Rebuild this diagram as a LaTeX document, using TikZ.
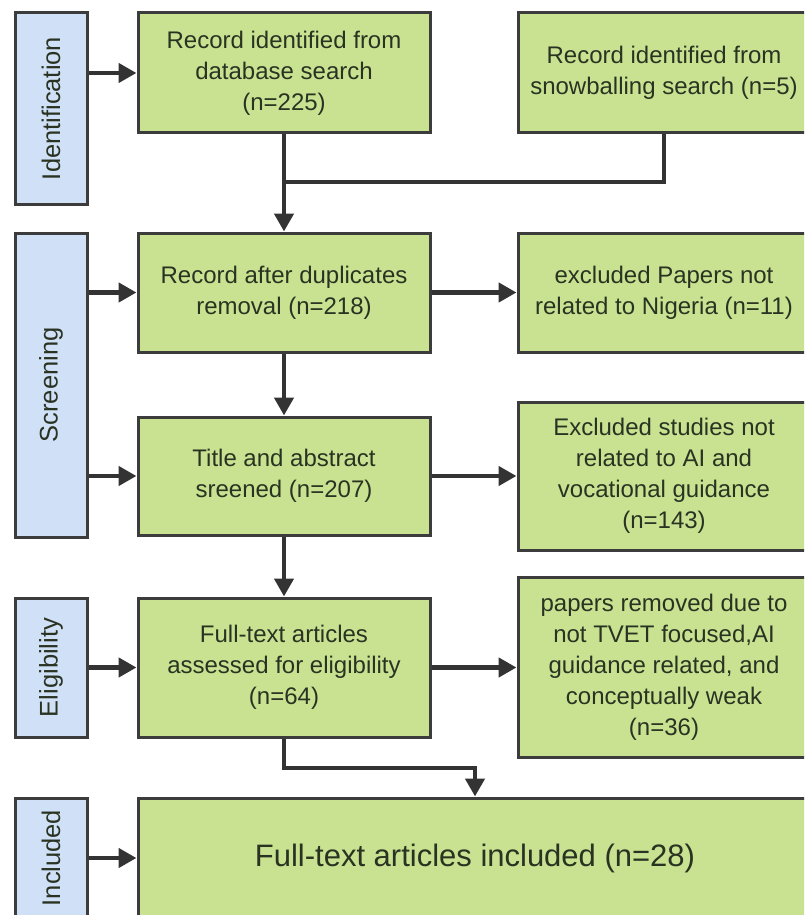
\documentclass[tikz,border=0pt]{standalone}
\usepackage{fontspec}
\setmainfont{Liberation Sans}
\usetikzlibrary{arrows.meta}
\definecolor{gfill}{HTML}{C8E291}
\definecolor{bfill}{HTML}{CFE0F7}
\definecolor{edgec}{HTML}{3C3C3C}
\definecolor{txtc}{HTML}{2A3322}
\definecolor{linec}{HTML}{333333}
\tikzset{
  phase/.style={draw=edgec, line width=3pt, fill=bfill, minimum width=72pt, inner sep=0pt,
    text=txtc, font=\fontsize{25.5}{30}\selectfont},
  gbox/.style={draw=edgec, line width=3pt, fill=gfill, minimum width=292pt, inner sep=0pt,
    align=center, text=txtc, font=\fontsize{24}{31}\selectfont},
  conn/.style={draw=linec, line width=4.5pt},
  arr/.style={conn, -{Triangle[length=18pt,width=19pt]}},
}
\begin{document}
\begin{tikzpicture}[x=1pt,y=-1pt]
\useasboundingbox (0,0) rectangle (804,915);
\clip (0,0) rectangle (804,915);
\fill[white] (0,0) rectangle (804,915);
% phase boxes
\node[phase, minimum height=191pt] (id) at (51,108.5) {\rotatebox{90}{Identification}};
\node[phase, minimum height=304pt] (scr) at (51,385) {\rotatebox{90}{Screening}};
\node[phase, minimum height=139pt] (eli) at (51,667.5) {\rotatebox{90}{Eligibility}};
\node[phase, minimum height=120pt] (inc) at (51,858) {\rotatebox{90}{Included}};
% main column
\node[gbox, minimum height=120pt] (b1) at (284,73) {Record identified from\\database search\\(n=225)};
\node[gbox, minimum height=119pt] (b2) at (284,292.5) {Record after duplicates\\removal (n=218)};
\node[gbox, minimum height=118pt] (b3) at (284,476) {Title and abstract\\sreened (n=207)};
\node[gbox, minimum height=139pt] (b4) at (284,667.5) {Full-text articles\\assessed for eligibility\\(n=64)};
\node[gbox, minimum width=674pt, minimum height=120pt, font=\fontsize{31}{38}\selectfont] (b5) at (475,858) {Full-text articles included (n=28)};
% right column
\node[gbox, minimum height=120pt] (r1) at (664,73) {Record identified from\\snowballing search (n=5)};
\node[gbox, minimum height=119pt] (r2) at (664,292.5) {excluded Papers not\\related to Nigeria (n=11)};
\node[gbox, minimum height=148pt] (r3) at (664,476) {Excluded studies not\\related to AI and\\vocational guidance\\(n=143)};
\node[gbox, minimum height=180pt] (r4) at (664,667) {papers removed due to\\not TVET focused,AI\\guidance related, and\\conceptually weak\\(n=36)};
% junction coordinates
\coordinate (j1) at (284,182);
\coordinate (j2) at (284,768);
% phase arrows
\draw[arr] (id.east |- b1) -- (b1.west);
\draw[arr] (scr.east |- b2) -- (b2.west);
\draw[arr] (scr.east |- b3) -- (b3.west);
\draw[arr] (eli.east |- b4) -- (b4.west);
\draw[arr] (inc.east |- b5) -- (b5.west);
% main flow
\draw[arr] (b1.south) -- (b2.north);
\draw[conn] (r1.south) |- (j1);
\draw[arr] (b2.south) -- (b3.north);
\draw[arr] (b3.south) -- (b4.north);
\draw[arr] (b4.south) -- (j2) -| (b5.north);
% exclusions
\draw[arr] (b2.east) -- (r2.west);
\draw[arr] (b3.east) -- (r3.west);
\draw[arr] (b4.east) -- (r4.west |- b4);
\end{tikzpicture}
\end{document}
